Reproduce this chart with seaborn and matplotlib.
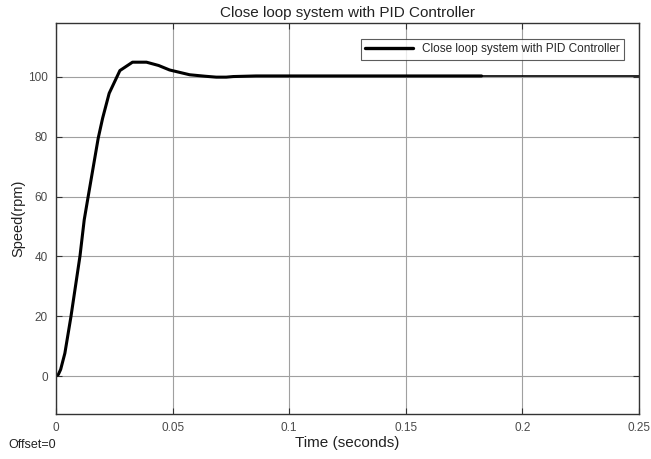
import numpy as np
import pandas as pd
import seaborn as sns
import matplotlib.pyplot as plt

# step response
time_s = [0, 0.0010, 0.0020, 0.0038, 0.0064, 0.0103, 0.0121, 0.0138, 0.0181,
          0.0200, 0.0228, 0.0274, 0.0328, 0.0388, 0.0440, 0.0487, 0.0573,
          0.0640, 0.0687, 0.0730, 0.0760, 0.0858, 0.1200, 0.1825]
speed_rpm = [0, 0.5, 2.2, 7.6, 19.8, 40.2, 52.2, 60.0, 79.5,
             86.2, 94.5, 102.1, 104.9, 104.9, 103.8, 102.3, 100.7,
             100.2, 99.9, 99.9, 100.1, 100.3, 100.3, 100.3]
# thin tail after the thick trace stops
tail_time = [0.1825, 0.25]
tail_speed = [100.3, 100.3]

x_ticks = [0, 0.05, 0.1, 0.15, 0.2, 0.25]
x_labels = ["0", "0.05", "0.1", "0.15", "0.2", "0.25"]
y_ticks = [0, 20, 40, 60, 80, 100]

label = "Close loop system with PID Controller"

sns.set_style("white")
plt.rcParams['font.family'] = ['Liberation Sans', 'DejaVu Sans']

df = pd.DataFrame({"t": time_s, "v": speed_rpm})
df_tail = pd.DataFrame({"t": tail_time, "v": tail_speed})

fig = plt.figure(figsize=(6.51, 4.59), dpi=100)
ax = fig.add_axes([56 / 651, 1 - 414 / 459, (639 - 56) / 651, (414 - 23) / 459])

sns.lineplot(data=df, x="t", y="v", ax=ax, color="black", linewidth=2.2,
             label=label, sort=False)
sns.lineplot(data=df_tail, x="t", y="v", ax=ax, color="black", linewidth=1.2,
             sort=False)

ax.set_xlim(0, 0.25)
ax.set_ylim(-12.7, 118)
ax.set_xticks(x_ticks)
ax.set_xticklabels(x_labels)
ax.set_yticks(y_ticks)
ax.grid(True, color="#a0a0a0", linewidth=0.8)
ax.tick_params(direction="in", length=4, width=0.8, colors="#333333",
               labelcolor="#4a4a4a", labelsize=8.5, top=True, right=True,
               bottom=True, left=True, pad=6)
for s in ax.spines.values():
    s.set_color("#333333")
    s.set_linewidth(1.0)

ax.set_xlabel("Time (seconds)", fontsize=11, color="#222222", labelpad=1)
ax.set_ylabel("Speed(rpm)", fontsize=10.5, color="#222222", labelpad=2)
ax.set_title(label, fontsize=11, color="#222222", pad=4)

leg = ax.legend(loc="upper right", bbox_to_anchor=(0.975, 0.96), fontsize=8.5,
                frameon=True, fancybox=False, edgecolor="#333333",
                handlelength=4.0, borderpad=0.4, borderaxespad=0)
leg.get_frame().set_linewidth(0.8)
for line in leg.get_lines():
    line.set_linewidth(2.4)

fig.text(8 / 651, 1 - 445 / 459, "Offset=0", fontsize=9, color="#222222",
         va="center")

fig.savefig("out.png", dpi=100, facecolor="white")
